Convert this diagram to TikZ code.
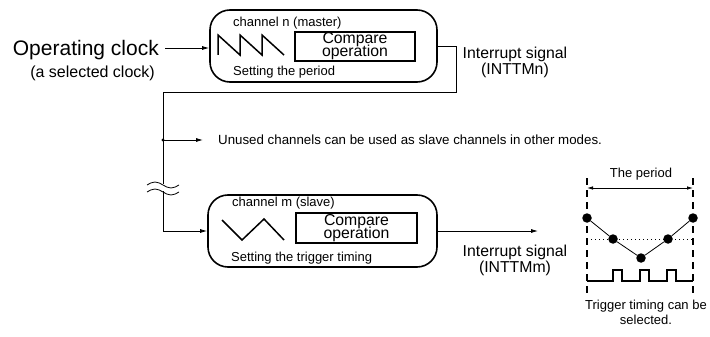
\documentclass[tikz,border=0pt]{standalone}
\usepackage{fontspec}
\setmainfont{Liberation Sans}
\usetikzlibrary{arrows.meta}
\begin{document}
\begin{tikzpicture}[x=1pt,y=-1pt,
  chbox/.style={draw,line width=1.6pt,rounded corners=20pt,inner sep=0pt},
  cmpbox/.style={draw,line width=1.5pt,inner sep=0pt,minimum width=120pt,minimum height=29pt,align=center,font=\fontsize{15.8}{11}\selectfont},
  wire/.style={line width=0.8pt},
  arr/.style={wire,-{Latex[length=7pt,width=4pt]}},
  lbl/.style={inner sep=0pt,font=\fontsize{13}{15}\selectfont},
  big/.style={inner sep=0pt,font=\fontsize{15.8}{16}\selectfont,align=center},
  dotn/.style={circle,fill,inner sep=0pt,minimum size=9.5pt},
  wave/.style={line width=1.5pt},
]
\useasboundingbox (0,0) rectangle (710,337);

% left input
\node[inner sep=0pt,font=\fontsize{21}{22}\selectfont,anchor=east] (clk) at (159,50) {Operating clock};
\node[inner sep=0pt,font=\fontsize{16}{18}\selectfont,anchor=east] (clksub) at (155,73) {(a selected clock)};

% master channel
\node[chbox,minimum width=227pt,minimum height=72pt] (master) at (323.5,46) {};
\node[lbl,anchor=west] (mtitle) at (233,23) {channel n (master)};
\node[lbl,anchor=west] (mset) at (233,72) {Setting the period};
\node[cmpbox] (mcmp) at (355,46.5) {Compare\\[-2.5pt]operation};
\draw[wave] (218,55) -- (218,35) -- (240,55) -- (240,35) -- (262,55) -- (262,35) -- (284,55);

% slave channel
\node[chbox,minimum width=229pt,minimum height=72pt] (slave) at (322.5,231) {};
\node[lbl,anchor=west] (stitle) at (232,203) {channel m (slave)};
\node[lbl,anchor=west] (sset) at (231,258) {Setting the trigger timing};
\node[cmpbox,minimum width=121pt,minimum height=30pt] (scmp) at (356.5,228) {Compare\\[-2.5pt]operation};
\draw[wave] (222,220) -- (242,240) -- (264,219) -- (284,240);

% connectors
\coordinate (cin) at (165,48);
\draw[arr] (cin) -- (cin -| master.west);
\coordinate (j1) at (456,92);
\coordinate (bus) at (163,92);
\coordinate (jn) at (163,140);
\coordinate (brk1) at (163,184);
\coordinate (brk2) at (163,191);
\coordinate (uarr) at (203,140);
\draw[wire] (master.east) -| (j1) -- (bus) -- (brk1);
\draw[arr] (brk2) |- (slave.west);
\fill (jn) circle (1.7pt);
\draw[arr] (jn) -- (uarr);
\node[inner sep=0pt,font=\fontsize{13.3}{15}\selectfont,anchor=west] (unused) at (218,140) {Unused channels can be used as slave channels in other modes.};

% break symbol
\draw[wire] (147,185) sin (155,182) cos (163,185) sin (171,188) cos (179,185);
\draw[wire] (147,192) sin (155,189) cos (163,192) sin (171,195) cos (179,192);

% interrupt labels
\node[big] (mint) at (515,62) {Interrupt signal\\(INTTMn)};
\coordinate (sout) at (538,231);
\draw[arr] (slave.east) -- (sout);
\node[big] (sint) at (515,260) {Interrupt signal\\(INTTMm)};

% timing diagram
\coordinate (pl) at (587,188);
\coordinate (pr) at (693,188);
\draw[line width=1.1pt,dash pattern=on 7pt off 5pt] (587,178) -- (587,296);
\draw[line width=1.1pt,dash pattern=on 7pt off 5pt] (693,178) -- (693,296);
\draw[wire,{Latex[length=6pt,width=3.5pt]}-{Latex[length=6pt,width=3.5pt]}] (pl) -- (pr);
\node[lbl] (period) at (641,174) {The period};
\draw[line width=0.9pt,dash pattern=on 1pt off 3pt] (587,239) -- (693,239);
\node[dotn] (d1) at (587,218) {};
\node[dotn] (d2) at (613,239) {};
\node[dotn] (d3) at (641,258) {};
\node[dotn] (d4) at (668,239) {};
\node[dotn] (d5) at (693,218) {};
\draw[wire] (d1) -- (d2) -- (d3) -- (d4) -- (d5);
\draw[line width=1.2pt] (587,281) -- (613,281) -- (613,270) -- (622,270) -- (622,281) -- (640,281) -- (640,270) -- (649,270) -- (649,281) -- (667,281) -- (667,270) -- (676,270) -- (676,281) -- (693,281);
\node[lbl,align=center] (trig) at (646,312) {Trigger timing can be\\selected.};
\end{tikzpicture}
\end{document}
